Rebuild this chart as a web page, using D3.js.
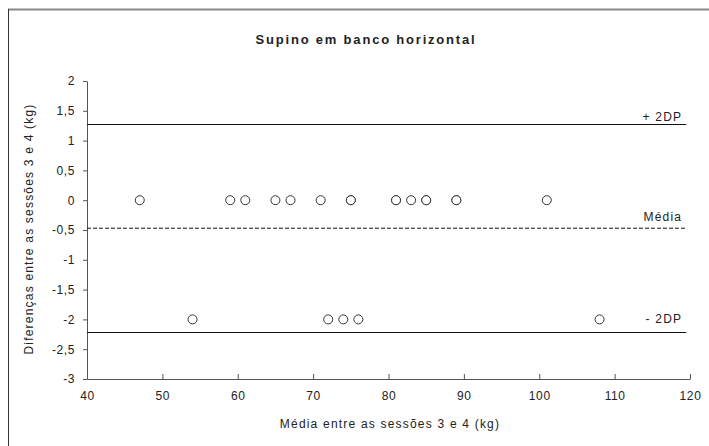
<!DOCTYPE html>
<html lang="pt">
<head>
  <meta charset="UTF-8">
  <title>Supino em banco horizontal</title>
  <script src="https://d3js.org/d3.v7.min.js"></script>
  <style>
    body { margin: 0; background: #fff; font-family: "Liberation Sans", Arial, sans-serif; }
    .axis text { font-size: 12px; fill: #222; letter-spacing: 0.6px; }
    .axis path, .axis line { stroke: #555; }
    .lbl { font-size: 12px; fill: #222; letter-spacing: 1.2px; }
  </style>
</head>
<body>
  <svg width="709" height="446"></svg>
  <script>
    // média entre sessões 3 e 4 (kg)
    const mediaZero = [47, 59, 61, 65, 67, 71, 75, 75, 81, 81, 83, 85, 85, 89, 89, 101];
    const mediaMenos2 = [54, 72, 74, 76, 108];
    // diferenças
    const pontos = mediaZero.map(x => ({ x: x, y: 0 }))
      .concat(mediaMenos2.map(x => ({ x: x, y: -2 })));

    const refLinhas = [
      { nome: "+ 2DP", valor: 1.27, tracejada: false },
      { nome: "Média", valor: -0.47, tracejada: true },
      { nome: "- 2DP", valor: -2.22, tracejada: false }
    ];
    const xExtensao = [40, 119.5];

    const xTicks = [40, 50, 60, 70, 80, 90, 100, 110, 120];
    const yTicks = [2, 1.5, 1, 0.5, 0, -0.5, -1, -1.5, -2, -2.5, -3];

    const svg = d3.select("svg");

    // moldura
    svg.append("line").attr("x1", 8).attr("x2", 709).attr("y1", 9.5).attr("y2", 9.5)
      .attr("stroke", "#888").attr("stroke-width", 2);
    svg.append("line").attr("x1", 8.5).attr("x2", 8.5).attr("y1", 9).attr("y2", 446)
      .attr("stroke", "#333").attr("stroke-width", 1);

    const x = d3.scaleLinear().domain([40, 120]).range([87, 690]);
    const y = d3.scaleLinear().domain([-3, 2]).range([379, 81]);
    const fmt = d => String(d).replace(".", ",");

    svg.append("g").attr("class", "axis")
      .attr("transform", "translate(0," + y(-3) + ")")
      .call(d3.axisBottom(x).tickValues(xTicks).tickSizeInner(-5).tickSizeOuter(0).tickPadding(12))
      .call(g => g.selectAll("text").attr("dy", "0.71em"));

    svg.append("g").attr("class", "axis")
      .attr("transform", "translate(" + x(40) + ",0)")
      .call(d3.axisLeft(y).tickValues(yTicks).tickFormat(fmt).tickSizeInner(4).tickSizeOuter(0).tickPadding(8));

    // linhas de referência
    svg.append("g").selectAll("line").data(refLinhas).join("line")
      .attr("x1", x(xExtensao[0])).attr("x2", x(xExtensao[1]))
      .attr("y1", d => y(d.valor)).attr("y2", d => y(d.valor))
      .attr("stroke", "#111").attr("stroke-width", 1)
      .attr("stroke-dasharray", d => d.tracejada ? "4,2" : null);

    svg.append("g").selectAll("text").data(refLinhas).join("text")
      .attr("class", "lbl")
      .attr("x", x(xExtensao[1]) - 4)
      .attr("y", d => d.tracejada ? y(d.valor) - 7 : (d.valor < 0 ? y(d.valor) - 10 : y(d.valor) - 4))
      .attr("text-anchor", "end")
      .text(d => d.nome);

    // pontos
    svg.append("g").selectAll("circle").data(pontos).join("circle")
      .attr("cx", d => x(d.x)).attr("cy", d => y(d.y)).attr("r", 4.5)
      .attr("fill", "#fff").attr("stroke", "#333").attr("stroke-width", 1);

    // títulos
    svg.append("text").attr("x", 366).attr("y", 44).attr("text-anchor", "middle")
      .attr("font-size", 13).attr("font-weight", "bold").attr("letter-spacing", "1.8px")
      .attr("fill", "#222").text("Supino em banco horizontal");

    svg.append("text").attr("class", "lbl").attr("x", 390).attr("y", 428)
      .attr("text-anchor", "middle").attr("letter-spacing", "1.6px")
      .text("Média entre as sessões 3 e 4 (kg)");

    svg.append("text").attr("class", "lbl")
      .attr("transform", "translate(33,229) rotate(-90)")
      .attr("text-anchor", "middle").attr("letter-spacing", "0.9px")
      .text("Diferenças entre as sessões 3 e 4 (kg)");
  </script>
</body>
</html>
